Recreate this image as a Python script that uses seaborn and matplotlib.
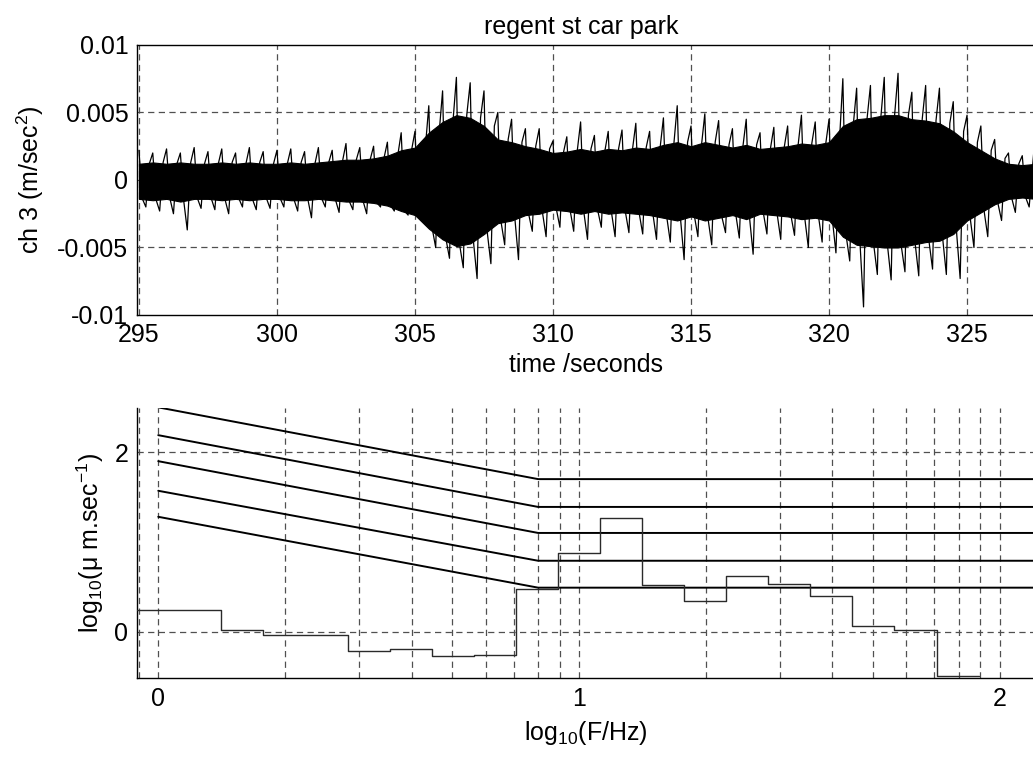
"""Vibration record (regent st car park): time trace and 1/3-octave spectrum."""

import matplotlib

matplotlib.use("Agg")
import matplotlib.pyplot as plt
import numpy as np
import pandas as pd
import seaborn as sns

# ---- top panel: acceleration trace, read as envelopes every 0.5 s (units 1e-3 m/s^2)
T_START, T_STEP = 295.0, 0.5
peak_hi = [2.2, 2.0, 2.3, 2.0, 2.4, 2.1, 2.3, 2.0, 2.4, 2.1,
           2.2, 2.3, 2.1, 2.4, 2.2, 2.7, 2.4, 2.5, 2.8, 3.5,
           3.6, 5.5, 6.6, 7.6, 7.2, 6.6, 5.0, 4.5, 3.8, 3.8,
           2.9, 3.2, 4.3, 3.3, 3.6, 3.7, 4.2, 3.6, 4.6, 5.5,
           4.0, 4.9, 4.4, 3.8, 4.5, 3.5, 3.9, 4.0, 4.8, 4.3,
           4.5, 7.5, 6.8, 7.0, 7.6, 7.9, 6.5, 7.0, 6.8, 5.8,
           4.8, 4.0, 3.0, 2.0, 1.8, 4.0]
peak_lo = [-2.0, -2.3, -2.5, -3.7, -2.1, -2.2, -2.5, -2.0, -2.2, -2.1,
           -2.0, -2.3, -2.8, -2.0, -2.4, -2.2, -2.5, -2.0, -2.3, -2.6,
           -3.0, -5.0, -5.8, -6.5, -7.3, -6.2, -4.8, -5.9, -3.8, -4.2,
           -3.5, -3.8, -4.4, -3.5, -4.2, -3.9, -4.0, -4.4, -4.6, -5.9,
           -4.2, -4.8, -3.9, -4.3, -5.5, -4.0, -4.4, -4.1, -5.0, -4.6,
           -5.4, -6.0, -9.4, -7.0, -7.4, -6.8, -7.1, -6.6, -7.0, -7.3,
           -5.0, -4.2, -3.0, -2.4, -2.0, -2.2]
core_hi = [1.2, 1.3, 1.2, 1.3, 1.2, 1.2, 1.3, 1.2, 1.3, 1.2,
           1.2, 1.3, 1.2, 1.3, 1.4, 1.5, 1.5, 1.6, 1.8, 2.2,
           2.4, 3.5, 4.3, 4.8, 4.6, 4.0, 3.0, 2.8, 2.5, 2.3,
           2.0, 2.1, 2.3, 2.1, 2.3, 2.2, 2.4, 2.3, 2.6, 2.8,
           2.5, 2.8, 2.6, 2.4, 2.6, 2.3, 2.4, 2.5, 2.7, 2.6,
           2.8, 4.0, 4.5, 4.6, 4.8, 4.8, 4.5, 4.4, 4.2, 3.6,
           2.8, 2.2, 1.6, 1.2, 1.1, 1.2]
core_lo = [-1.4, -1.5, -1.4, -1.6, -1.4, -1.4, -1.5, -1.4, -1.5, -1.4,
           -1.4, -1.5, -1.5, -1.4, -1.5, -1.6, -1.6, -1.7, -1.9, -2.3,
           -2.6, -3.6, -4.4, -4.9, -4.7, -4.0, -3.2, -3.0, -2.6, -2.5,
           -2.2, -2.3, -2.5, -2.3, -2.5, -2.4, -2.5, -2.6, -2.8, -3.0,
           -2.7, -3.0, -2.8, -2.6, -2.9, -2.5, -2.6, -2.7, -2.9, -2.8,
           -3.0, -4.2, -4.8, -4.9, -5.0, -5.0, -4.8, -4.6, -4.5, -4.0,
           -3.0, -2.4, -1.8, -1.4, -1.3, -1.4]

# ---- bottom panel: 1/3-octave band levels (log10 units) and criterion curves
band_edges = [-0.05, 0.05, 0.15, 0.25, 0.35, 0.45, 0.55, 0.65, 0.75, 0.85, 0.95,
              1.05, 1.15, 1.25, 1.35, 1.45, 1.55, 1.65, 1.75, 1.85, 1.95]
band_levels = [0.242, 0.242, 0.019, -0.037, -0.037, -0.212, -0.193, -0.275, -0.26, 0.475,
               0.876, 1.267, 0.518, 0.343, 0.615, 0.533, 0.402, 0.06, 0.015, -0.49]
curve_x = [0.0, 0.903, 2.1]
curve_levels = {
    "c1": [2.50, 1.70, 1.70],
    "c2": [2.19, 1.39, 1.39],
    "c3": [1.90, 1.10, 1.10],
    "c4": [1.57, 0.79, 0.79],
    "c5": [1.28, 0.49, 0.49],
}
grid_freqs = [0.9, 1, 2, 3, 4, 5, 6, 7, 8, 9, 10, 20, 30, 40, 50, 60, 70, 80, 90, 100]

GRID = dict(color="#505050", linestyle=(0, (5, 3.5)), linewidth=0.9)


def style_axes(ax):
    ax.tick_params(direction="in", length=5, width=0.8, labelsize=18, pad=6,
                   colors="black")
    for side in ax.spines.values():
        side.set_color("black")
        side.set_linewidth(1.0)


def main():
    sns.set_theme(style="white")
    plt.rcParams["font.family"] = ["Liberation Sans", "DejaVu Sans"]
    plt.rcParams["mathtext.fontset"] = "custom"
    plt.rcParams["mathtext.rm"] = "Liberation Sans"
    plt.rcParams["mathtext.it"] = "Liberation Sans"
    plt.rcParams["text.color"] = "black"
    plt.rcParams["axes.labelcolor"] = "black"

    fig = plt.figure(figsize=(10.33, 7.57), dpi=100)
    ax1 = fig.add_axes([0.1323, 0.5839, 0.8696, 0.3567])
    ax2 = fig.add_axes([0.1323, 0.1040, 0.8696, 0.3567])

    # top: trace
    t = T_START + T_STEP * np.arange(len(peak_hi))
    for x in [295, 300, 305, 310, 315, 320, 325]:
        ax1.axvline(x, zorder=0, **GRID)
    for y in [-0.005, 0, 0.005]:
        ax1.axhline(y, zorder=0, **GRID)
    ax1.fill_between(t, np.array(core_lo) * 1e-3, np.array(core_hi) * 1e-3,
                     color="black", linewidth=0.8, zorder=2)
    # trace swings peak -> core -> trough -> core within each half second
    q = T_STEP / 4
    zz = pd.DataFrame({
        "time": np.column_stack([t, t + q, t + 2 * q, t + 3 * q]).ravel(),
        "acc": np.column_stack([peak_hi, core_lo, peak_lo, core_hi]).ravel() * 1e-3,
    })
    sns.lineplot(data=zz, x="time", y="acc", ax=ax1, color="black",
                 linewidth=0.9, estimator=None, sort=False, zorder=3)
    ax1.set_xlim(294.917, 327.46)
    ax1.set_ylim(-0.01, 0.01)
    ax1.set_xticks([295, 300, 305, 310, 315, 320, 325])
    ax1.set_yticks([-0.01, -0.005, 0, 0.005, 0.01])
    ax1.set_yticklabels(["-0.01", "-0.005", "0", "0.005", "0.01"])
    ax1.set_xlabel("time /seconds", fontsize=18, labelpad=4)
    ax1.set_ylabel("ch 3 (m/sec$^2$)", fontsize=18, labelpad=8)
    ax1.set_title("regent st car park", fontsize=18, x=0.4954, pad=8)
    ax1.spines["right"].set_visible(False)
    style_axes(ax1)

    # bottom: spectrum with criterion curves
    for f in grid_freqs:
        ax2.axvline(np.log10(f), zorder=0, **GRID)
    for y in [0, 2]:
        ax2.axhline(y, zorder=0, **GRID)
    curves = pd.DataFrame([
        {"curve": name, "x": x, "y": y}
        for name, ys in curve_levels.items() for x, y in zip(curve_x, ys)
    ])
    sns.lineplot(data=curves, x="x", y="y", units="curve", estimator=None,
                 color="black", linewidth=1.4, ax=ax2, zorder=3)
    steps = pd.DataFrame({"x": band_edges, "y": band_levels + [band_levels[-1]]})
    sns.lineplot(data=steps, x="x", y="y", drawstyle="steps-post", estimator=None,
                 color="#2a2a2a", linewidth=1.0, ax=ax2, zorder=4)
    ax2.set_xlim(-0.0513, 2.084)
    ax2.set_ylim(-0.52, 2.49)
    ax2.set_xticks([0, 1, 2])
    ax2.set_yticks([0, 2])
    ax2.set_xlabel("log$_{10}$(F/Hz)", fontsize=18, labelpad=6)
    ax2.set_ylabel("log$_{10}$(\u03bc m.sec$^{-1}$)", fontsize=18, labelpad=6)
    ax2.spines["right"].set_visible(False)
    ax2.spines["top"].set_visible(False)
    style_axes(ax2)

    fig.savefig("out.png", dpi=100)
    plt.close(fig)


if __name__ == "__main__":
    main()
